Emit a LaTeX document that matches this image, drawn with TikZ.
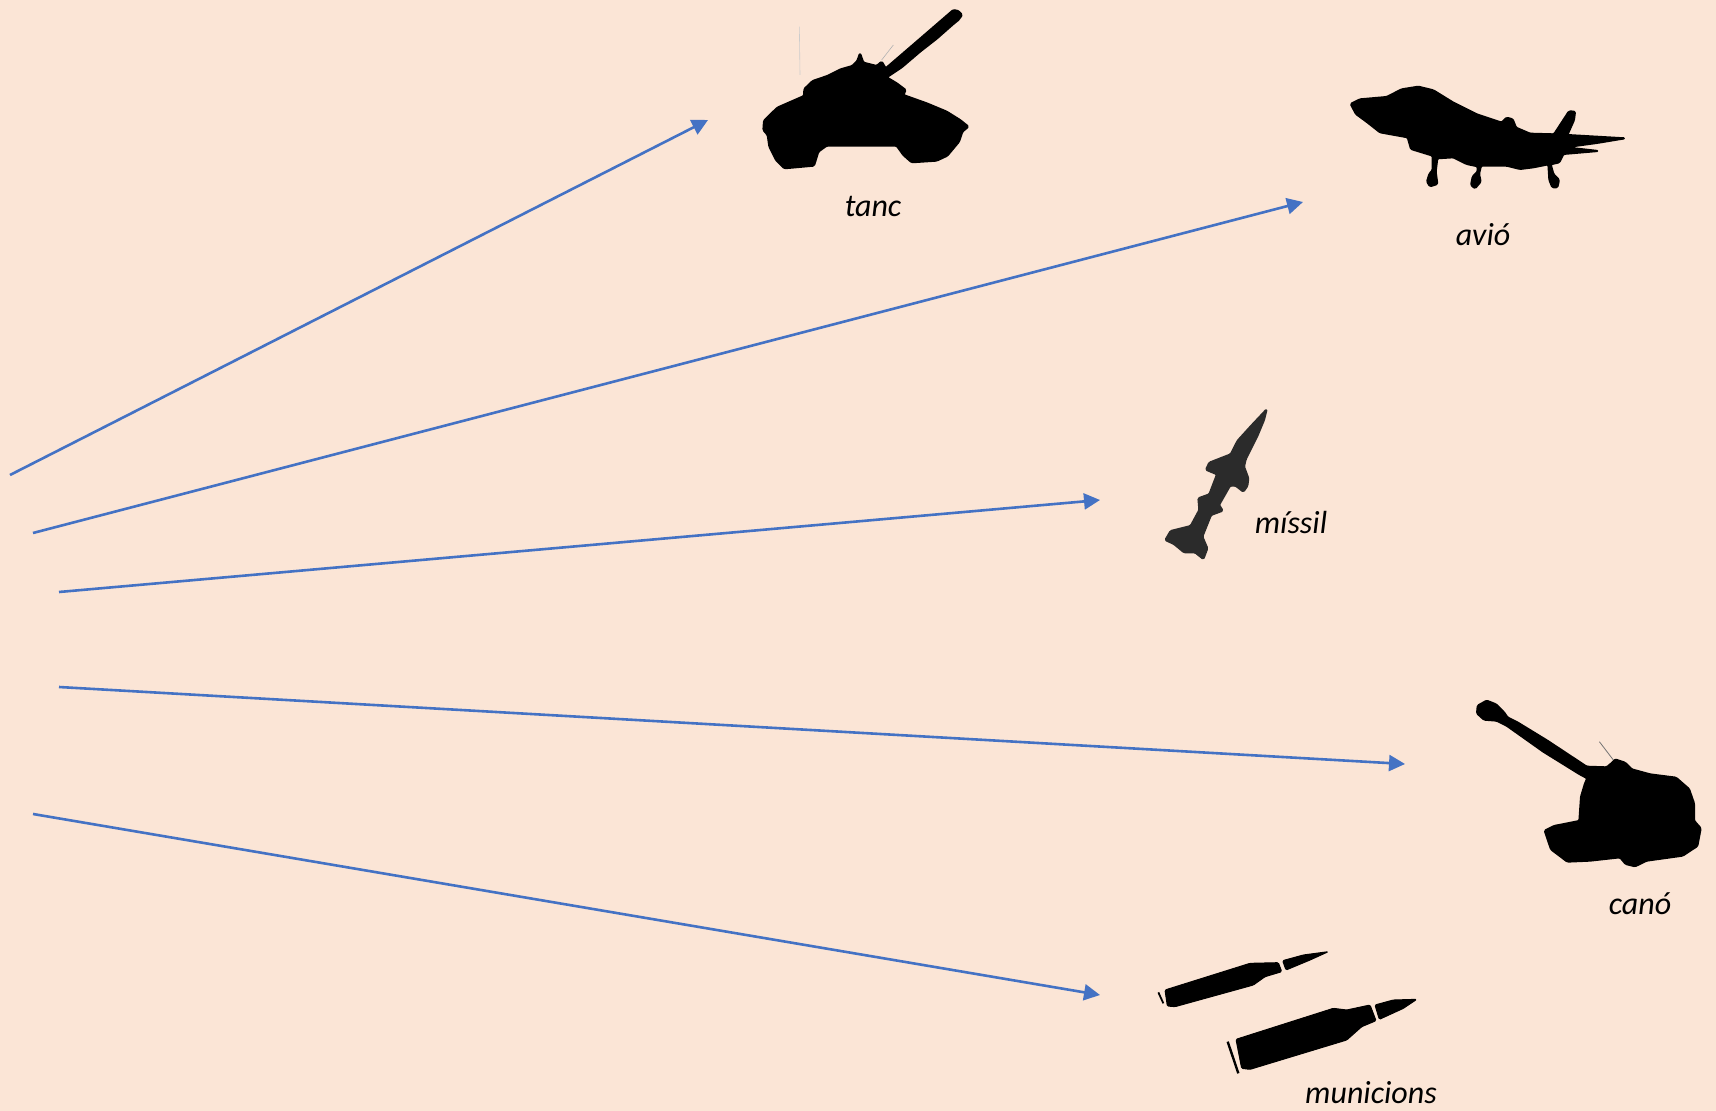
\documentclass[tikz,border=0pt]{standalone}
\usepackage{fontspec}
\setmainfont{Carlito}
\usetikzlibrary{arrows.meta}
\definecolor{bg}{HTML}{FBE5D6}
\definecolor{arrowblue}{HTML}{4472C4}
\definecolor{missilegrey}{HTML}{2B2B2B}
\tikzset{
  lab/.style={font=\fontsize{16}{18}\selectfont\itshape,text=black,inner sep=0pt},
  link/.style={draw=arrowblue,line width=1.3pt,-{Triangle[length=8pt,width=8pt]}},
  sil/.style={fill=black,draw=black,line width=1pt,rounded corners=0.6pt,line join=round},
  shell/.style={sil,line width=0.5pt},
  crop/.style={shift={#1},scale=1/3}
}
\begin{document}
\begin{tikzpicture}[x=0.5pt,y=-0.5pt]
\fill[bg] (0,0) rectangle (1716,1111);
\useasboundingbox (0,0) rectangle (1716,1111);
% tank
\begin{scope}[crop={(740,0)}]
\path[sil] (640,30)--(655,33)--(666,45)--(655,60)--(640,72)--(590,116)--(540,155)--(485,202)--(440,232)--(470,250)--(497,270)--(490,285)--(560,310)--(620,335)--(660,360)--(685,380)--(667,395)--(657,425)--(622,467)--(590,482)--(515,487)--(490,465)--(470,437)--(260,437)--(235,455)--(222,497)--(133,505)--(108,480)--(88,440)--(83,405)--(70,390)--(72,362)--(112,323)--(192,288)--(193,267)--(218,243)--(262,228)--(302,208)--(337,198)--(352,183)--(360,160)--(370,188)--(410,198)--(425,185)--(437,205)--(530,125)--cycle;
\draw[black!20,line width=0.3pt] (178,80)--(180,225);
\draw[black!30,line width=0.3pt] (425,180)--(460,135);
\end{scope}
% plane
\begin{scope}[crop={(1330,70)}]
\path[sil] (62,102)--(90,88)--(170,81)--(215,58)--(265,50)--(310,61)--(370,98)--(440,133)--(515,158)--(530,143)--(548,148)--(558,173)--(600,191)--(672,193)--(717,124)--(735,125)--(732,150)--(712,195)--(885,205)--(800,219)--(705,232)--(805,243)--(700,252)--(688,277)--(662,283)--(670,312)--(687,330)--(682,352)--(667,352)--(658,330)--(655,283)--(610,292)--(570,297)--(530,287)--(453,287)--(447,312)--(452,335)--(435,355)--(423,345)--(428,320)--(443,305)--(443,289)--(410,282)--(370,262)--(322,265)--(317,305)--(322,342)--(300,349)--(291,335)--(298,312)--(308,300)--(308,257)--(243,237)--(233,202)--(150,187)--(112,157)--(78,132)--cycle;
\end{scope}
% missile
\begin{scope}[crop={(1140,390)}]
\path[sil,fill=missilegrey,draw=missilegrey] (380,58)--(372,90)--(352,138)--(317,208)--(312,230)--(325,265)--(322,288)--(310,305)--(287,287)--(270,287)--(237,345)--(248,362)--(213,375)--(187,440)--(202,475)--(190,507)--(165,487)--(132,487)--(102,462)--(76,450)--(92,423)--(152,408)--(178,360)--(175,325)--(208,313)--(231,253)--(198,239)--(208,218)--(272,193)--(293,152)--(333,108)--cycle;
\end{scope}
% cannon
\begin{scope}[crop={(1450,680)}]
\path[sil] (110,62)--(138,73)--(162,97)--(172,112)--(202,127)--(292,182)--(410,260)--(470,262)--(490,245)--(495,238)--(525,248)--(545,268)--(600,283)--(678,293)--(717,327)--(732,370)--(732,422)--(752,445)--(742,498)--(698,527)--(590,542)--(555,559)--(527,552)--(510,532)--(420,542)--(352,545)--(303,508)--(284,452)--(312,438)--(388,423)--(393,350)--(405,310)--(412,295)--(388,282)--(280,215)--(170,137)--(140,122)--(102,119)--(81,100)--(83,77)--cycle;
\draw[black!55,line width=0.4pt] (448,185)--(490,240);
\end{scope}
% ammunition
\begin{scope}[crop={(1130,930)}]
\path[shell] (105,180)--(360,100)--(445,98)--(455,125)--(405,140)--(370,165)--(135,230)--(112,228)--cycle;
\path[shell] (458,92)--(520,75)--(595,65)--(540,90)--(468,120)--cycle;
\draw[black,line width=0.9pt] (85,187)--(100,220);
\path[shell] (318,328)--(610,235)--(650,240)--(720,225)--(738,272)--(695,290)--(650,330)--(360,418)--(335,415)--cycle;
\path[shell] (735,225)--(790,210)--(860,208)--(820,235)--(748,268)--cycle;
\draw[black,line width=1.2pt] (293,335)--(325,430);
\end{scope}
% labels
\node[lab] (tanc) at (873,207) {tanc};
\node[lab] (avio) at (1483,235) {avió};
\node[lab] (missil) at (1291,523) {míssil};
\node[lab] (cano) at (1640,904) {canó};
\node[lab] (municions) at (1371,1093) {municions};
% connectors
\coordinate (s1) at (10,475); \coordinate (e1) at (708,120);
\coordinate (s2) at (33,533); \coordinate (e2) at (1303,202);
\coordinate (s3) at (59,592); \coordinate (e3) at (1100,500);
\coordinate (s4) at (59,687); \coordinate (e4) at (1405,764);
\coordinate (s5) at (33,814); \coordinate (e5) at (1100,995);
\draw[link] (s1)--(e1);
\draw[link] (s2)--(e2);
\draw[link] (s3)--(e3);
\draw[link] (s4)--(e4);
\draw[link] (s5)--(e5);
\end{tikzpicture}
\end{document}
